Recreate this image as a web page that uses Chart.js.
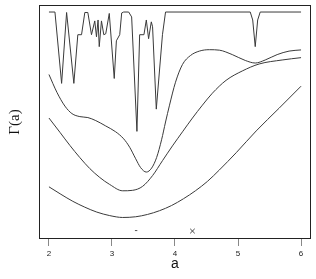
<!DOCTYPE html>
<html>
<head>
<meta charset="utf-8">
<script src="https://cdn.jsdelivr.net/npm/chart.js@4/dist/chart.umd.min.js"></script>
<style>
  html, body { margin: 0; padding: 0; background: #fff; }
  #gammaChart { display: block; }
</style>
</head>
<body>
<canvas id="gammaChart" width="316" height="279"></canvas>
<script>
// x tick labels
const xTicks = [2, 3, 4, 5, 6];

// curve 1 (top, jagged)
const curve1A = [2.000, 2.095, 2.201, 2.280, 2.395, 2.458, 2.517, 2.569, 2.617, 2.675, 2.727, 2.754, 2.779, 2.798, 2.833, 2.870, 2.901, 2.957, 3.036, 3.070, 3.123, 3.154, 3.186, 3.265, 3.312, 3.396, 3.439, 3.507, 3.545, 3.581, 3.624, 3.644, 3.703, 3.801, 3.850, 5.194, 5.233, 5.273, 5.312, 5.352, 6.000];
const curve1G = [97.0, 97.0, 66.5, 96.8, 66.5, 87.3, 87.3, 96.8, 96.8, 87.3, 93.2, 86.4, 93.6, 82.2, 93.2, 87.3, 87.7, 96.4, 68.6, 84.7, 87.3, 96.6, 97.0, 97.0, 94.9, 46.0, 87.3, 87.3, 93.6, 85.6, 92.8, 90.7, 55.5, 87.3, 97.0, 97.0, 93.6, 82.2, 93.6, 97.0, 97.0];

// curve 2
const curve2A = [2.000, 2.126, 2.253, 2.364, 2.490, 2.617, 2.743, 2.901, 3.059, 3.186, 3.281, 3.376, 3.455, 3.545, 3.629, 3.708, 3.787, 3.850, 3.913, 4.008, 4.119, 4.245, 4.387, 4.545, 4.704, 4.909, 5.115, 5.273, 5.431, 5.621, 5.810, 6.000];
const curve2G = [70.3, 62.7, 56.8, 53.6, 52.3, 51.9, 50.6, 48.3, 45.8, 42.8, 39.2, 34.3, 30.5, 28.6, 30.3, 34.8, 42.4, 50.0, 57.2, 67.0, 74.6, 78.4, 80.3, 80.9, 80.7, 78.8, 76.3, 75.2, 76.5, 78.8, 80.3, 80.8];

// curve 3
const curve3A = [2.000, 2.174, 2.332, 2.490, 2.648, 2.806, 2.964, 3.170, 3.328, 3.486, 3.644, 3.802, 3.960, 4.119, 4.277, 4.435, 4.593, 4.810, 5.067, 5.336, 5.700, 6.000];
const curve3G = [51.7, 45.6, 40.0, 34.8, 30.1, 26.3, 23.3, 20.6, 20.8, 22.5, 27.1, 33.5, 39.8, 45.8, 51.7, 57.2, 62.3, 67.8, 71.8, 74.8, 76.5, 77.5];

// curve 4 (bottom)
const curve4A = [2.000, 2.190, 2.379, 2.569, 2.759, 2.964, 3.170, 3.376, 3.565, 3.755, 3.945, 4.134, 4.324, 4.514, 4.704, 4.972, 5.289, 5.652, 6.000];
const curve4G = [22.3, 19.1, 16.1, 13.6, 11.5, 10.0, 9.2, 9.5, 10.5, 12.1, 14.3, 17.2, 20.6, 24.6, 29.5, 36.9, 46.2, 55.9, 65.3];

// markers near the bottom
const dashMark = { a: 3.383, g: 3.6 };
const crossMark = { a: 4.277, g: 3.4 };

const toPoints = (xs, ys) => xs.map((x, i) => ({ x: x, y: ys[i] }));

// box around the plot area
const boxPlugin = {
    id: 'plotBox',
    afterDraw(chart) {
        const { ctx, chartArea } = chart;
        ctx.save();
        ctx.strokeStyle = '#222';
        ctx.lineWidth = 1;
        ctx.strokeRect(chartArea.left + 0.5, chartArea.top + 0.5,
            chartArea.right - chartArea.left - 1, chartArea.bottom - chartArea.top - 1);
        ctx.restore();
    }
};

function curve(xs, ys, smooth) {
    return {
        data: toPoints(xs, ys),
        borderColor: '#3a3a3a',
        borderWidth: 1,
        pointRadius: 0,
        fill: false,
        tension: 0,
        cubicInterpolationMode: smooth ? 'monotone' : 'default'
    };
}

const ctx = document.getElementById('gammaChart').getContext('2d');
new Chart(ctx, {
    type: 'line',
    data: {
        datasets: [
            curve(curve1A, curve1G, false),
            curve(curve2A, curve2G, true),
            curve(curve3A, curve3G, true),
            curve(curve4A, curve4G, true),
            {
                data: [{ x: dashMark.a, y: dashMark.g }],
                showLine: false,
                pointStyle: 'line',
                pointRadius: 1.2,
                borderColor: '#555',
                borderWidth: 1
            },
            {
                data: [{ x: crossMark.a, y: crossMark.g }],
                showLine: false,
                pointStyle: 'crossRot',
                pointRadius: 3.2,
                borderColor: '#444',
                borderWidth: 1
            }
        ]
    },
    options: {
        responsive: false,
        animation: false,
        devicePixelRatio: 1,
        layout: { padding: { top: 3, right: 4, left: 0, bottom: 0 } },
        plugins: { legend: { display: false }, tooltip: { enabled: false } },
        scales: {
            x: {
                type: 'linear',
                min: 1.842,
                max: 6.158,
                afterBuildTicks: (scale) => { scale.ticks = xTicks.map(v => ({ value: v })); },
                afterFit: (scale) => { scale.height = 40; },
                grid: { display: true, drawOnChartArea: false, drawTicks: true, tickLength: 7, color: '#888' },
                border: { display: false },
                ticks: {
                    color: '#222',
                    padding: 3,
                    maxRotation: 0,
                    font: { family: 'Liberation Sans, Arial, sans-serif', size: 8 }
                },
                title: {
                    display: true,
                    text: 'a',
                    color: '#111',
                    padding: { top: 0, bottom: 6 },
                    font: { family: 'Liberation Sans, Arial, sans-serif', size: 14 }
                }
            },
            y: {
                min: 0,
                max: 100,
                afterFit: (scale) => { scale.width = 39; },
                grid: { display: false },
                border: { display: false },
                ticks: { display: false },
                title: {
                    display: true,
                    text: 'Γ(a)',
                    color: '#111',
                    padding: { top: 6, bottom: 0 },
                    font: { family: 'Liberation Serif, Times New Roman, serif', size: 15 }
                }
            }
        }
    },
    plugins: [boxPlugin]
});
</script>
</body>
</html>
